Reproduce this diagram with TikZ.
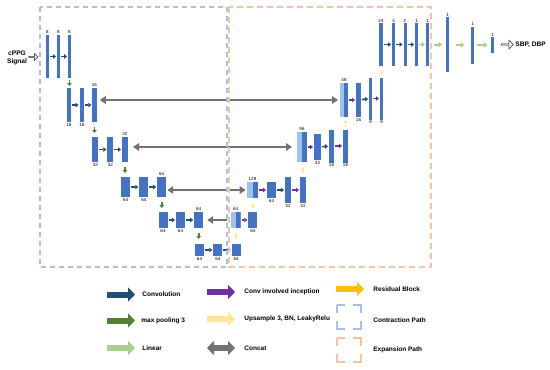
\documentclass[tikz,border=0pt]{standalone}
\usepackage{fontspec}
\setmainfont{Liberation Sans}
\usetikzlibrary{arrows.meta,shapes.arrows,positioning}

\definecolor{barblue}{HTML}{4472C4}
\definecolor{lightbar}{HTML}{9DC3E6}
\definecolor{convnavy}{HTML}{1F4E79}
\definecolor{poolgreen}{HTML}{548235}
\definecolor{lingreen}{HTML}{A9D18E}
\definecolor{incpurple}{HTML}{7030A0}
\definecolor{upyellow}{HTML}{FFE699}
\definecolor{resgold}{HTML}{FFC000}
\definecolor{catgray}{HTML}{767171}
\definecolor{contrblue}{HTML}{A9C0E6}
\definecolor{expandorange}{HTML}{F7C4A2}

\begin{document}
\begin{tikzpicture}[x=1pt, y=-1pt, line width=0.8pt,
  bar/.style={fill=barblue, inner sep=0pt, outer sep=0pt},
  catbar/.style={bar, fill=lightbar,
    path picture={\fill[barblue] (path picture bounding box.north) rectangle (path picture bounding box.south east);}},
  num/.style={font=\fontsize{4.5}{5}\selectfont, inner sep=0.6pt},
  conv/.style={draw=convnavy, line width=1.6pt, >={Triangle[length=3pt,width=4.5pt]}, ->, shorten <=1pt, shorten >=1pt},
  incep/.style={conv, draw=incpurple},
  pool/.style={conv, draw=poolgreen},
  upsam/.style={conv, draw=upyellow},
  lin/.style={conv, draw=lingreen, line width=2pt, >={Triangle[length=3.5pt,width=5.5pt]}},
  concat/.style={draw=catgray, line width=2.6pt, >={Triangle[length=6pt,width=7.5pt]}},
  hollow/.style={single arrow, draw=black!85, fill=white, line width=0.5pt, inner sep=0pt, single arrow head extend=1.5pt},
  iotxt/.style={font=\bfseries\fontsize{6.6}{8.5}\selectfont, align=center, inner sep=0pt},
  legtxt/.style={anchor=west, font=\bfseries\fontsize{6.5}{7}\selectfont, inner sep=0pt},
  legarr/.style={line width=6pt, >={Triangle[length=7pt,width=14pt]}},
  contr/.style={draw=contrblue, line width=1.3pt, dash pattern=on 5pt off 4pt},
  expand/.style={draw=expandorange, line width=1.3pt, dash pattern=on 6pt off 4pt}]

\useasboundingbox (0,0) rectangle (550,370);

% =========================
% input
% =========================
\node[iotxt] (sig) at (17,58) {cPPG\\Signal};
\node[hollow, minimum height=9pt, minimum width=6.5pt] (inarr) at (33,57) {};

% =========================
% contraction path
% =========================
% level 1
\node[bar, minimum width=3pt, minimum height=43pt, label={[num]above:8}] (a1) at (47.5,56.5) {};
\node[bar, minimum width=3pt, minimum height=43pt, label={[num]above:8}] (a2) at (58.5,56.5) {};
\node[bar, minimum width=3pt, minimum height=43pt, label={[num]above:8}] (a3) at (69.5,56.5) {};
\draw[conv] (a1) -- (a2);
\draw[conv] (a2) -- (a3);

% level 2
\node[bar, minimum width=4.5pt, minimum height=34pt, label={[num]below:16}] (b1) at (69,105) {};
\node[bar, minimum width=4.5pt, minimum height=34pt, label={[num]below:16}] (b2) at (81.8,105) {};
\node[bar, minimum width=4.5pt, minimum height=34pt, label={[num]above:16}] (b3) at (94.5,105) {};
\draw[conv] (b1) -- (b2);
\draw[conv] (b2) -- (b3);

% level 3
\node[bar, minimum width=6pt, minimum height=25pt, label={[num]below:32}] (c1) at (95.3,149.5) {};
\node[bar, minimum width=6pt, minimum height=25pt, label={[num]below:32}] (c2) at (110.3,149.5) {};
\node[bar, minimum width=6pt, minimum height=25pt, label={[num]above:32}] (c3) at (125,149.5) {};
\draw[conv] (c1) -- (c2);
\draw[conv] (c2) -- (c3);

% level 4
\node[bar, minimum width=9pt, minimum height=20pt, label={[num]below:64}] (d1) at (125.7,187) {};
\node[bar, minimum width=9pt, minimum height=20pt, label={[num]below:64}] (d2) at (143.8,187) {};
\node[bar, minimum width=9pt, minimum height=20pt, label={[num]above:64}] (d3) at (161.7,187) {};
\draw[conv] (d1) -- (d2);
\draw[conv] (d2) -- (d3);

% level 5
\node[bar, minimum width=9pt, minimum height=16pt, label={[num]below:64}] (e1) at (163,220) {};
\node[bar, minimum width=9pt, minimum height=16pt, label={[num]below:64}] (e2) at (180.5,220) {};
\node[bar, minimum width=9pt, minimum height=16pt, label={[num]above:64}] (e3) at (198.7,220) {};
\draw[conv] (e1) -- (e2);
\draw[conv] (e2) -- (e3);

% bottom
\node[bar, minimum width=9pt, minimum height=12pt, label={[num]below:64}] (f1) at (199.5,250) {};
\node[bar, minimum width=9pt, minimum height=12pt, label={[num]below:64}] (f2) at (217.8,250) {};
\node[bar, minimum width=9pt, minimum height=12pt, label={[num]below:64}] (f3) at (236.2,250) {};
\draw[conv] (f1) -- (f2);
\draw[conv] (f2) -- (f3);

% max pooling
\draw[pool, shorten <=2pt, shorten >=2pt] (a3.south) -- (a3.south |- b1.north);
\draw[pool, shorten <=5pt, shorten >=4pt] (b3.south) -- (b3.south |- c1.north);
\draw[pool, shorten <=5pt, shorten >=4pt] (c3.south) -- (c3.south |- d1.north);
\draw[pool, shorten <=5pt, shorten >=4pt] (d3.south) -- (d3.south |- e1.north);
\draw[pool, shorten <=5pt, shorten >=5pt] (e3.south) -- (e3.south |- f1.north);

% =========================
% expansion path
% =========================
% level 5
\node[catbar, minimum width=10pt, minimum height=16pt, label={[num]above:64}] (g1) at (235.7,220) {};
\node[bar, minimum width=9pt, minimum height=16pt, label={[num]below:64}] (g2) at (252.8,220) {};
\draw[incep] (g1) -- (g2);

% level 4
\node[catbar, minimum width=11.6pt, minimum height=16pt, label={[num]above:128}] (h1) at (252.5,190) {};
\node[bar, minimum width=9pt, minimum height=16pt, label={[num]below:64}] (h2) at (271.5,190) {};
\node[bar, minimum width=6pt, minimum height=26pt, label={[num]below:32}] (h3) at (288,190) {};
\node[bar, minimum width=6pt, minimum height=26pt, label={[num]below:32}] (h4) at (303,190) {};
\draw[incep] (h1) -- (h2);
\draw[conv] (h2) -- (h3);
\draw[incep] (h3) -- (h4);

% level 3
\node[catbar, minimum width=10pt, minimum height=30pt, label={[num]above:96}] (k1) at (302,147) {};
\node[bar, minimum width=7pt, minimum height=26pt, label={[num]below:32}] (k2) at (317.5,147) {};
\node[bar, minimum width=5pt, minimum height=33pt, label={[num]below:16}] (k3) at (331.5,146) {};
\node[bar, minimum width=5pt, minimum height=33pt, label={[num]below:16}] (k4) at (345.5,146) {};
\draw[incep] (k1) -- (k2);
\draw[conv] (k2) -- (k3);
\draw[incep] (k3) -- (k4);

% level 2
\node[catbar, minimum width=8pt, minimum height=34pt, label={[num]above:48}] (m1) at (344,100) {};
\node[bar, minimum width=5pt, minimum height=34pt, label={[num]below:16}] (m2) at (358.5,100) {};
\node[bar, minimum width=3pt, minimum height=42pt, label={[num]below:8}] (m3) at (370.5,98.5) {};
\node[bar, minimum width=3pt, minimum height=42pt, label={[num]below:8}] (m4) at (381.5,98.5) {};
\draw[incep] (m1) -- (m2);
\draw[conv] (m2) -- (m3);
\draw[incep] (m3) -- (m4);

% level 1
\node[bar, minimum width=4pt, minimum height=43pt, label={[num]above:24}] (n1) at (381,44.5) {};
\node[bar, minimum width=3pt, minimum height=43pt, label={[num]above:4}] (n2) at (393.5,44.5) {};
\node[bar, minimum width=3pt, minimum height=43pt, label={[num]above:2}] (n3) at (405,44.5) {};
\node[bar, minimum width=3pt, minimum height=43pt, label={[num]above:1}] (n4) at (416.5,44.5) {};
\node[bar, minimum width=3pt, minimum height=43pt, label={[num]above:1}] (n5) at (427.5,44.5) {};
\draw[conv] (n1) -- (n2);
\draw[conv] (n2) -- (n3);
\draw[conv] (n3) -- (n4);
\draw[lin, line width=1.6pt] (n4) -- (n5);

% upsampling
\draw[upsam, shorten <=5pt, shorten >=5pt] (f3.north) -- (f3.north |- g1.south);
\draw[upsam, shorten <=4pt, shorten >=5pt] (g2.north) -- (g2.north |- h1.south);
\draw[upsam, shorten <=4pt, shorten >=5pt] (h4.north) -- (h4.north |- k1.south);
\draw[upsam, shorten <=3pt, shorten >=3pt] (k4.north) -- (k4.north |- m1.south);
\draw[upsam, shorten <=2pt, shorten >=4pt] (m4.north) -- (m4.north |- n1.south);

% concat
\draw[concat, <->, shorten <=3pt, shorten >=2pt] (b3.east |- m1.west) -- (m1.west);
\draw[concat, <->, shorten <=5pt, shorten >=5pt] (c3.east |- k1.west) -- (k1.west);
\draw[concat, <->, shorten <=1pt, shorten >=1pt] (d3.east |- h1.west) -- (h1.west);
\draw[concat, ->, shorten <=4pt, shorten >=4pt] (g1.west) -- (e3.east);

% =========================
% linear head
% =========================
\node[bar, minimum width=3pt, minimum height=55pt, label={[num]above:1}] (p1) at (447.5,44.5) {};
\node[bar, minimum width=2.5pt, minimum height=37pt, label={[num]above:1}] (p2) at (472.5,45) {};
\node[bar, minimum width=2.5pt, minimum height=16pt, label={[num]above:1}] (p3) at (492.5,45) {};
\draw[lin, shorten <=5pt, shorten >=4pt] (n5.east |- p1.west) -- (p1.west);
\draw[lin, shorten <=7pt, shorten >=7pt] (p1.east |- p2.west) -- (p2.west);
\draw[lin, shorten <=3pt, shorten >=4pt] (p2) -- (p3);

% output
\node[hollow, minimum height=12pt, minimum width=9pt] (outarr) at (507,44.5) {};
\node[iotxt, anchor=west] (out) at (515,44.5) {SBP, DBP};

% =========================
% contraction / expansion boxes
% =========================
\draw[contr] (40,7) rectangle (227,267);
\draw[expand] (229,7) rectangle (431,267);

% =========================
% legend
% =========================
\node[legtxt] (lconv) at (142,294.5) {Convolution};
\node[legtxt] (lpool) at (141,320.5) {max pooling 3};
\node[legtxt] (llin) at (142,348) {Linear};
\node[legtxt] (linc) at (244,292) {Conv involved inception};
\node[legtxt] (lups) at (244,319) {Upsample 3, BN, LeakyRelu};
\node[legtxt] (lcat) at (244,348) {Concat};
\node[legtxt] (lres) at (373,289) {Residual Block};
\node[legtxt] (lcon) at (373,320) {Contraction Path};
\node[legtxt] (lexp) at (373,350) {Expansion Path};

\draw[legarr, convnavy, ->] ([xshift=-35pt]lconv.west) -- ([xshift=-7pt]lconv.west);
\draw[legarr, poolgreen, ->] ([xshift=-34pt]lpool.west) -- ([xshift=-6pt]lpool.west);
\draw[legarr, lingreen, ->] ([xshift=-35pt]llin.west) -- ([xshift=-7pt]llin.west);
\draw[legarr, incpurple, ->] ([xshift=-37pt]linc.west) -- ([xshift=-9pt]linc.west);
\draw[legarr, upyellow, ->] ([xshift=-37pt]lups.west) -- ([xshift=-9pt]lups.west);
\draw[legarr, catgray, <->] ([xshift=-37pt]lcat.west) -- ([xshift=-9pt]lcat.west);
\draw[legarr, resgold, ->] ([xshift=-37pt]lres.west) -- ([xshift=-9pt]lres.west);

% dashed squares
\draw[contr, dash pattern=on 16pt off 8pt, dash phase=8pt] (337,305) rectangle (361,329);
\draw[expand, dash pattern=on 16pt off 8pt, dash phase=8pt] (337,338) rectangle (361,362);

\end{tikzpicture}
\end{document}
